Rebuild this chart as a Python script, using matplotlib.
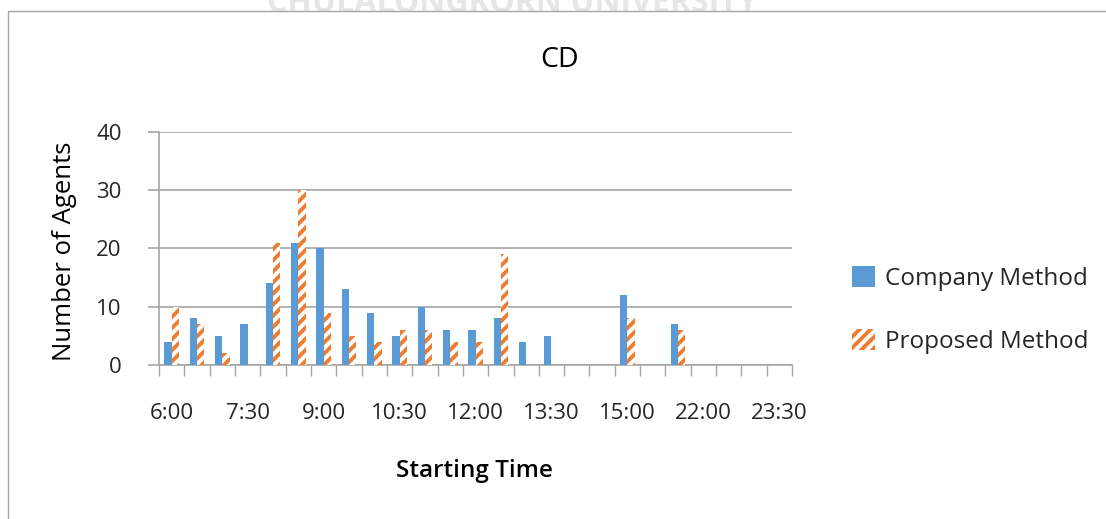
"""
Bar chart of agents per starting time, CD site: company vs proposed method.
"""
import matplotlib
matplotlib.use('Agg')
import matplotlib.pyplot as plt
import numpy as np
from matplotlib.patches import Rectangle
from matplotlib.ticker import FixedLocator, MultipleLocator

plt.rcParams['font.family'] = ['Open Sans', 'DejaVu Sans']
plt.rcParams['hatch.linewidth'] = 2.8

# Data (one category every 30 minutes)
start_times = ['6:00', '6:30', '7:00', '7:30', '8:00', '8:30', '9:00',
               '9:30', '10:00', '10:30', '11:00', '11:30', '12:00',
               '12:30', '13:00', '13:30', '14:00', '14:30', '15:00',
               '21:00', '21:30', '22:00', '22:30', '23:00', '23:30']
company = [4, 8, 5, 7, 14, 21, 20, 13, 9, 5, 10, 6, 6, 8, 4, 5,
           0, 0, 12, 0, 7, 0, 0, 0, 0]
proposed = [10, 7, 2, 0, 21, 30, 9, 5, 4, 6, 6, 4, 4, 19, 0, 0,
            0, 0, 8, 0, 6, 0, 0, 0, 0]
shown_labels = ['6:00', '7:30', '9:00', '10:30', '12:00', '13:30',
                '15:00', '22:00', '23:30']

blue = '#5b9bd5'
orange = '#ed7d31'
grey = '#a6a6a6'

fig = plt.figure(figsize=(11.06, 5.19), dpi=100)
ax = fig.add_axes([0.1438, 0.2967, 0.5723, 0.449])

x = np.arange(len(start_times))
w = 0.29
ax.bar(x - w / 2, company, w, color=blue, linewidth=0,
       label='Company Method', zorder=3)
ax.bar(x + w / 2, proposed, w, color='white', edgecolor=orange,
       hatch='///', linewidth=0, label='Proposed Method', zorder=3)

ax.set_xlim(-0.5, len(start_times) - 0.5)
ax.set_ylim(0, 40)
ax.yaxis.set_major_locator(MultipleLocator(10))
ax.grid(axis='y', color=grey, linewidth=1.2, zorder=0)

# labels only every third category, tick marks on the category borders
label_pos = [start_times.index(s) for s in shown_labels]
ax.set_xticks(label_pos)
ax.set_xticklabels(shown_labels)
ax.xaxis.set_minor_locator(FixedLocator(np.arange(-0.5, len(start_times), 1)))
ax.tick_params(axis='x', which='major', length=0, pad=27, labelsize=16,
               labelcolor='#262626')
ax.tick_params(axis='x', which='minor', length=8, width=1.0, color=grey)
ax.tick_params(axis='y', length=8, width=1.2, color=grey, pad=19,
               labelsize=16, labelcolor='#262626')

for side in ['top', 'right']:
    ax.spines[side].set_visible(False)
for side in ['left', 'bottom']:
    ax.spines[side].set_color(grey)
    ax.spines[side].set_linewidth(1.2)

fig.text(560 / 1106, 1 - 60 / 519, 'CD', ha='center', va='center',
         fontsize=20.5, fontweight='medium')
ax.set_xlabel('Starting Time', fontsize=17.5, fontweight='semibold')
ax.xaxis.set_label_coords(0.499, -0.405)
ax.set_ylabel('Number of Agents', fontsize=18.5, fontweight='medium')
ax.yaxis.set_label_coords(-0.129, 0.49)

leg = ax.legend(loc='center left', bbox_to_anchor=(852 / 1106, 1 - 310 / 519),
                bbox_transform=fig.transFigure, frameon=False, fontsize=17.5,
                handlelength=0.95, handleheight=0.95, handletextpad=0.4,
                labelspacing=1.6, borderpad=0, borderaxespad=0)
for t in leg.get_texts():
    t.set_color('#262626')

# chart frame and faint watermark cut off at the top
fig.patches.append(Rectangle((8 / 1106, -0.05), 1.2, 1 - 11 / 519 + 0.05,
                             transform=fig.transFigure, fill=False,
                             edgecolor='#a6a6a6', linewidth=1.0))
fig.text(512 / 1106, 1 - 12 / 519, 'CHULALONGKORN UNIVERSITY',
         ha='center', va='baseline', fontsize=23, fontweight='bold',
         color='#e6e6e6', zorder=-1)

fig.savefig('out.png', dpi=100)
